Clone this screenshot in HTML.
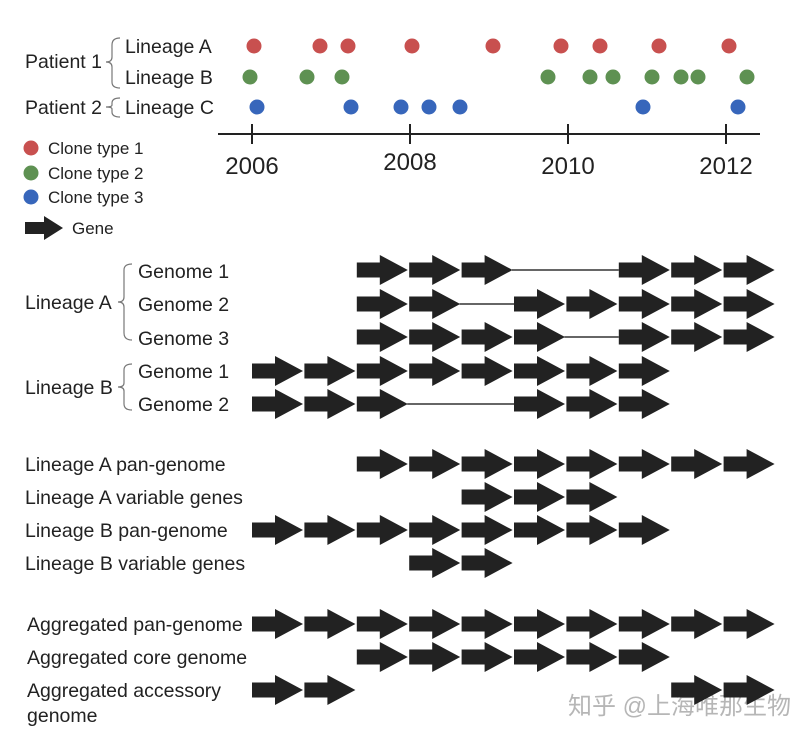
<!DOCTYPE html>
<html><head><meta charset="utf-8"><style>
html,body{margin:0;padding:0;background:#fff;width:808px;height:739px;overflow:hidden}
text{font-family:"Liberation Sans","Noto Sans CJK SC",sans-serif;fill:#222}
</style></head><body>
<svg id="s" width="808" height="739" viewBox="0 0 808 739" xmlns="http://www.w3.org/2000/svg">
<g font-size="19.5">
<text x="125" y="53">Lineage A</text>
<text x="125" y="84">Lineage B</text>
<text x="125" y="114">Lineage C</text>
<text x="25" y="68">Patient 1</text>
<text x="25" y="114">Patient 2</text>
</g>
<path d="M120,38 Q112,38 112,45 L112,57 Q112,62 106,62 Q112,62 112,67 L112,82 Q112,88 120,88" fill="none" stroke="#777" stroke-width="1.2"/>
<path d="M120,98 Q112,98 112,103 L112,105 Q112,107 106,107 Q112,107 112,109 L112,112 Q112,117 120,117" fill="none" stroke="#777" stroke-width="1.2"/>
<line x1="218" y1="134" x2="760" y2="134" stroke="#222" stroke-width="2"/>
<g stroke="#222" stroke-width="2">
<line x1="252" y1="124" x2="252" y2="144"/><line x1="410" y1="124" x2="410" y2="144"/><line x1="568" y1="124" x2="568" y2="144"/><line x1="726" y1="124" x2="726" y2="144"/>
</g>
<g font-size="24" text-anchor="middle">
<text x="252" y="174">2006</text><text x="410" y="170">2008</text><text x="568" y="174">2010</text><text x="726" y="174">2012</text>
</g>
<g font-size="17">
<circle cx="31" cy="148" r="7.5" fill="#c8504f"/><text x="48" y="154">Clone type 1</text>
<circle cx="31" cy="173" r="7.5" fill="#5e9152"/><text x="48" y="179">Clone type 2</text>
<circle cx="31" cy="197" r="7.5" fill="#3766bb"/><text x="48" y="203">Clone type 3</text>
<text x="72" y="234">Gene</text>
</g>
<path d="M25,222 L44,222 L44,216 L63,228 L44,240 L44,234 L25,234Z" fill="#222"/>
<g font-size="19.5">
<text x="138" y="278">Genome 1</text>
<text x="138" y="311">Genome 2</text>
<text x="138" y="345">Genome 3</text>
<text x="138" y="378">Genome 1</text>
<text x="138" y="411">Genome 2</text>
<text x="25" y="309">Lineage A</text>
<text x="25" y="394">Lineage B</text>
<text x="25" y="471">Lineage A pan-genome</text>
<text x="25" y="504">Lineage A variable genes</text>
<text x="25" y="537">Lineage B pan-genome</text>
<text x="25" y="570">Lineage B variable genes</text>
<text x="27" y="631">Aggregated pan-genome</text>
<text x="27" y="664">Aggregated core genome</text>
<text x="27" y="697">Aggregated accessory</text>
<text x="27" y="722">genome</text>
</g>
<path d="M132,264 Q124,264 124,270 L124,297 Q124,302 118,302 Q124,302 124,307 L124,333 Q124,340 132,340" fill="none" stroke="#777" stroke-width="1.2"/>
<path d="M132,364 Q124,364 124,370 L124,383 Q124,387 118,387 Q124,387 124,391 L124,404 Q124,410 132,410" fill="none" stroke="#777" stroke-width="1.2"/>
<text x="568" y="714" font-size="24" style="fill:#aaa" opacity="0.85">知乎 @上海唯那生物</text>
</svg>
<script>
var ns="http://www.w3.org/2000/svg",s=document.getElementById('s');
function add(t,a){var e=document.createElementNS(ns,t);for(var k in a)e.setAttribute(k,a[k]);s.appendChild(e);}
var dots=[[46,'#c8504f',[254,320,348,412,493,561,600,659,729]],[77,'#5e9152',[250,307,342,548,590,613,652,681,698,747]],[107,'#3766bb',[257,351,401,429,460,643,738]]];
dots.forEach(function(d){d[2].forEach(function(x){add('circle',{cx:x,cy:d[0],r:7.5,fill:d[1]});});});
function X(k){return 252+52.4*k;}
var rows=[[270,[2,3,4,7,8,9],[[5,7]]],[304,[2,3,5,6,7,8,9],[[4,5]]],[337,[2,3,4,5,7,8,9],[[6,7]]],[371,[0,1,2,3,4,5,6,7]],[404,[0,1,2,5,6,7],[[3,5]]],
[464,[2,3,4,5,6,7,8,9]],[497,[4,5,6]],[530,[0,1,2,3,4,5,6,7]],[563,[3,4]],[624,[0,1,2,3,4,5,6,7,8,9]],[657,[2,3,4,5,6,7]],[690,[0,1,8,9]]];
rows.forEach(function(r){var y=r[0];
(r[2]||[]).forEach(function(l){add('line',{x1:X(l[0])-2,y1:y,x2:X(l[1]),y2:y,stroke:'#333','stroke-width':1.5});});
r[1].forEach(function(k){var x=X(k);add('path',{d:'M'+x+','+(y-7.5)+' L'+(x+23)+','+(y-7.5)+' L'+(x+23)+','+(y-15)+' L'+(x+51)+','+y+' L'+(x+23)+','+(y+15)+' L'+(x+23)+','+(y+7.5)+' L'+x+','+(y+7.5)+'Z',fill:'#222'});});});
</script>
</body></html>
